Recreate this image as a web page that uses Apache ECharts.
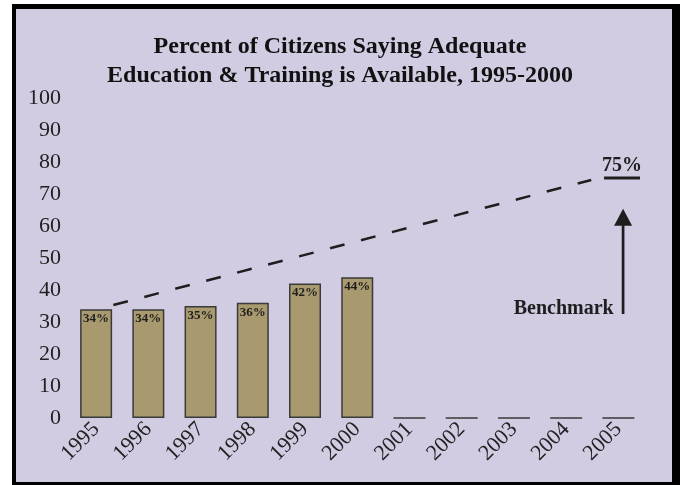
<!DOCTYPE html>
<html>
<head>
<meta charset="utf-8">
<script src="https://cdn.jsdelivr.net/npm/echarts@6/dist/echarts.min.js"></script>
<style>
  body { margin: 0; background: #fff; }
  #frame {
    position: absolute; left: 12px; top: 4px;
    width: 656px; height: 473px;
    border-style: solid; border-color: #000;
    border-width: 5px 9px 3px 4px;
    background: #d2cce3;
  }
  #chart { position: absolute; left: 0; top: 0; width: 680px; height: 485px; }
</style>
</head>
<body>
<div id="frame"></div>
<div id="chart"></div>
<script>
// 数据
const years = ['1995', '1996', '1997', '1998', '1999', '2000', '2001', '2002', '2003', '2004', '2005'];
const percents = [34, 34, 35, 36, 42, 44, 0, 0, 0, 0, 0];
const yTicks = [0, 10, 20, 30, 40, 50, 60, 70, 80, 90, 100];
// dashed trend toward the benchmark (x = category index)
const trendLine = [[0.33, 35.3], [9.48, 74.4]];
const benchmarkValue = 75;
const benchmarkArrow = [[10.09, 32.5], [10.09, 62.7]];
const benchmarkTextPos = [9.92, 34.2];

const serif = '"Liberation Serif", "DejaVu Serif", serif';
const ink = '#1e1e1e';
const myChart = echarts.init(document.getElementById('chart'));

myChart.setOption({
  backgroundColor: 'transparent',
  animation: false,
  title: {
    text: 'Percent of Citizens Saying Adequate\nEducation & Training is Available, 1995-2000',
    left: 'center',
    top: 32,
    padding: 0,
    textStyle: {
      fontFamily: serif,
      fontWeight: 'bold',
      fontSize: 24,
      lineHeight: 29,
      color: '#111',
    },
  },
  grid: {
    left: 70,
    right: 35.5,
    top: 98,
    bottom: 67,
    containLabel: false,
  },
  xAxis: [
    {
      type: 'category',
      data: years,
      axisLine: { show: false },
      axisTick: { show: false },
      axisLabel: {
        rotate: 45,
        margin: 8,
        fontFamily: serif,
        fontSize: 22,
        color: '#222',
      },
      splitLine: { show: false },
    },
    {
      type: 'value',
      min: -0.5,
      max: 10.5,
      show: false,
    },
  ],
  yAxis: {
    type: 'value',
    min: 0,
    max: 100,
    interval: 10,
    axisLine: { show: false },
    axisTick: { show: false },
    splitLine: { show: false },
    axisLabel: {
      margin: 9,
      fontFamily: serif,
      fontSize: 22,
      color: '#222',
      formatter: (v) => (yTicks.includes(v) ? String(v) : ''),
    },
  },
  series: [
    {
      name: 'trend',
      type: 'line',
      xAxisIndex: 1,
      data: trendLine,
      symbol: 'none',
      z: 1,
      lineStyle: { color: ink, width: 2.5, type: [15, 17] },
    },
    {
      name: 'percent',
      type: 'bar',
      data: percents,
      barWidth: 32,
      z: 3,
      itemStyle: {
        color: '#a8996e',
        borderColor: '#3a3a3a',
        borderWidth: 1.5,
      },
      label: {
        show: true,
        position: 'insideTop',
        distance: 3,
        fontFamily: serif,
        fontWeight: 'bold',
        fontSize: 13,
        color: ink,
        formatter: (p) => (p.value ? p.value + '%' : ''),
      },
    },
    {
      name: 'benchmark',
      type: 'scatter',
      xAxisIndex: 1,
      data: [[10.07, benchmarkValue]],
      symbol: 'rect',
      symbolSize: [36, 3],
      itemStyle: { color: ink, opacity: 1 },
      label: {
        show: true,
        position: 'top',
        distance: 1,
        formatter: benchmarkValue + '%',
        fontFamily: serif,
        fontWeight: 'bold',
        fontSize: 20,
        color: ink,
        opacity: 1,
      },
    },
    {
      name: 'benchmarkText',
      type: 'scatter',
      xAxisIndex: 1,
      data: [benchmarkTextPos],
      symbolSize: 1,
      itemStyle: { color: 'rgba(0,0,0,0)', opacity: 1 },
      label: {
        show: true,
        position: 'left',
        distance: 0,
        formatter: 'Benchmark',
        fontFamily: serif,
        fontWeight: 'bold',
        fontSize: 20,
        color: ink,
        opacity: 1,
      },
    },
    {
      name: 'arrow',
      type: 'line',
      xAxisIndex: 1,
      data: [
        { value: benchmarkArrow[0], symbol: 'none' },
        { value: benchmarkArrow[1], symbol: 'triangle', symbolSize: [18, 17] },
      ],
      showSymbol: true,
      itemStyle: { color: ink },
      lineStyle: { color: ink, width: 2.7 },
    },
  ],
});
</script>
</body>
</html>
